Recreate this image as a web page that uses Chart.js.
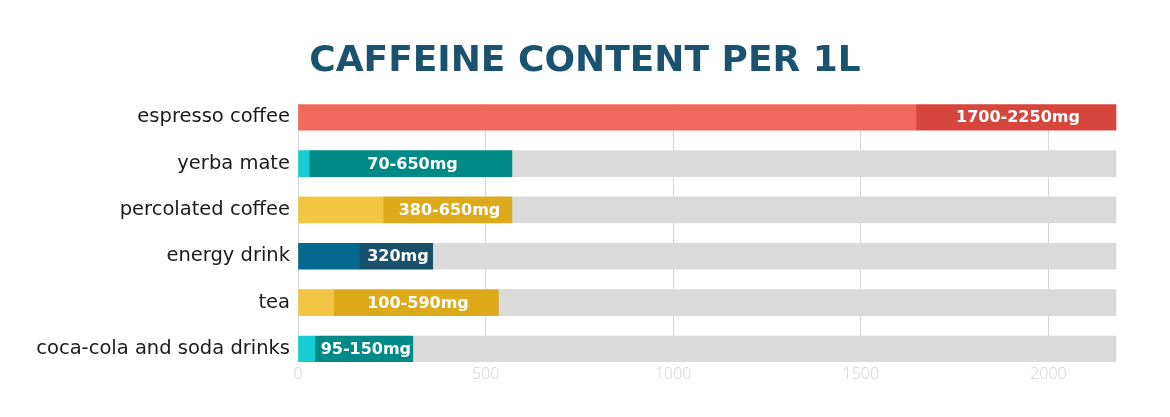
<!DOCTYPE html>
<html>
<head>
<meta charset="utf-8">
<script src="https://cdn.jsdelivr.net/npm/chart.js@4/dist/chart.umd.min.js"></script>
<style>
  html, body { margin: 0; padding: 0; background: #fff; }
  #wrap { width: 1170px; height: 417px; }
</style>
</head>
<body>
<div id="wrap"><canvas id="myChart"></canvas></div>
<script>
"use strict";
// Data
const drinks = ["espresso coffee", "yerba mate", "percolated coffee", "energy drink", "tea", "coca-cola and soda drinks"];
const lowValues = [1647, 30, 227, 163, 95, 45];
const highValues = [2180, 570, 570, 359, 534, 306];
const rangeLabels = ["1700-2250mg", "70-650mg", "380-650mg", "320mg", "100-590mg", "95-150mg"];
const barEnd = 2180;
const xTicks = [0, 500, 1000, 1500, 2000];

const lightColors = ["#f0695c", "#17cdd4", "#f3c544", "#05698f", "#f3c544", "#17cdd4"];
const darkColors = ["#d6463c", "#008a87", "#dcaa1b", "#19516b", "#dcaa1b", "#008a87"];

const WIDE = "'DejaVu Sans', sans-serif";
const THIN = "'Open Sans', sans-serif";

// Setup
const data = {
    labels: drinks,
    datasets: [
        {
            label: "min",
            data: lowValues,
            backgroundColor: lightColors,
        },
        {
            label: "range",
            data: highValues.map((h, i) => h - lowValues[i]),
            backgroundColor: darkColors,
        },
        {
            label: "rest",
            data: highValues.map((h) => Math.max(barEnd - h, 0)),
            backgroundColor: "#dadada",
        },
    ],
};

// write the range text in the middle of the dark part
const rangeText = {
    id: "rangeText",
    afterDatasetsDraw(chart) {
        const ctx = chart.ctx;
        const meta = chart.getDatasetMeta(1);
        ctx.save();
        ctx.fillStyle = "#ffffff";
        ctx.font = "bold 16px " + WIDE;
        ctx.textAlign = "center";
        ctx.textBaseline = "middle";
        meta.data.forEach((bar, i) => {
            const mid = (bar.x + bar.base) / 2;
            ctx.fillText(rangeLabels[i], mid + 2, bar.y + 1);
        });
        ctx.restore();
    },
};

// Config
const config = {
    type: "bar",
    data: data,
    plugins: [rangeText],
    options: {
        indexAxis: "y",
        responsive: true,
        maintainAspectRatio: false,
        animation: false,
        layout: { padding: 0 },
        datasets: {
            bar: { barThickness: 26, borderWidth: 0 },
        },
        scales: {
            x: {
                stacked: true,
                min: 0,
                max: 2324, // empty room right of the grey bars
                afterBuildTicks: (s) => { s.ticks = xTicks.map((v) => ({ value: v })); },
                afterFit: (s) => { s.height = 55; },
                grid: { color: "#d6d6d6", drawTicks: false, lineWidth: 1 },
                border: { display: false },
                ticks: {
                    color: "#d2d2d2",
                    padding: 3,
                    font: { family: THIN, size: 16, weight: "300" },
                    callback: (v) => String(v),
                },
            },
            y: {
                stacked: true,
                afterBuildTicks: (s) => { s._startValue = -0.28; s._valueRange = 5.56; },
                afterFit: (s) => { s.width = 298; },
                grid: { display: false, drawTicks: false },
                border: { display: true, color: "#d6d6d6" },
                ticks: {
                    color: "#1a1a1a",
                    padding: 8,
                    font: { family: WIDE, size: 19.5 },
                },
            },
        },
        plugins: {
            legend: { display: false },
            tooltip: { enabled: false },
            title: {
                display: true,
                text: "CAFFEINE CONTENT PER 1L",
                color: "#1a5270",
                font: { family: WIDE, size: 36, weight: "bold" },
                padding: { top: 40, bottom: 21 },
            },
        },
    },
};

const myChart = new Chart(document.getElementById("myChart"), config);
</script>
</body>
</html>
